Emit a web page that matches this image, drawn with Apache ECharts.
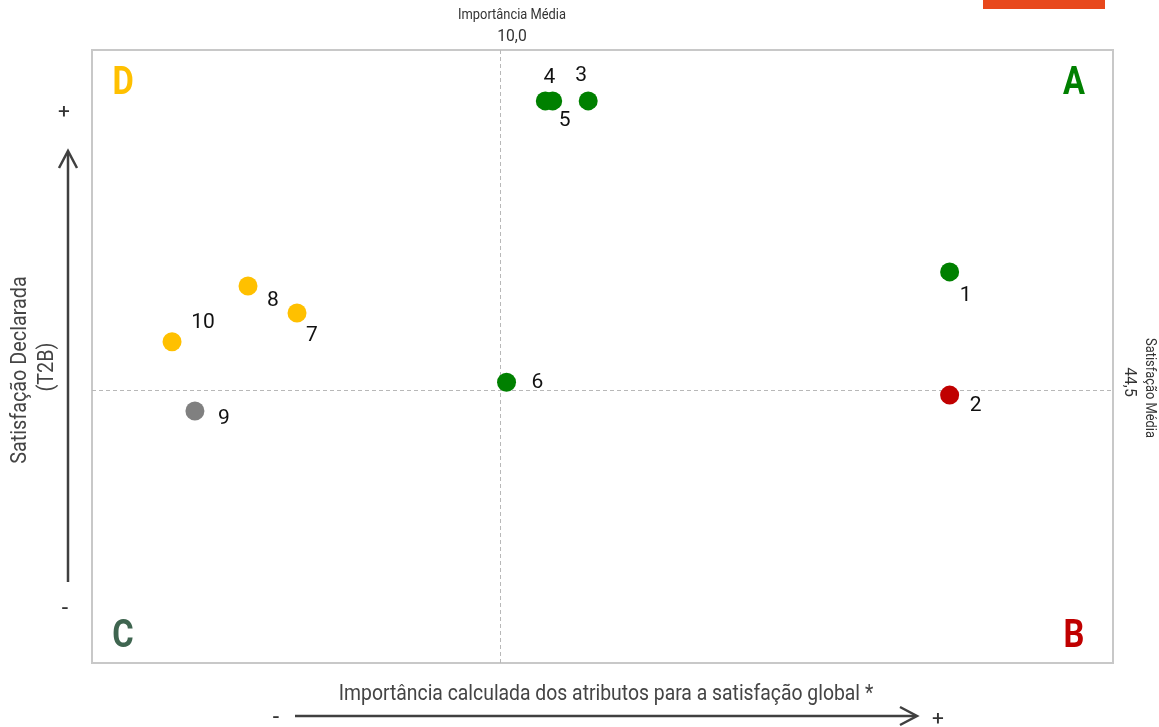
<!DOCTYPE html>
<html><head><meta charset="utf-8">
<script src="https://cdn.jsdelivr.net/npm/echarts@6/dist/echarts.min.js"></script>
<style>html,body{margin:0;padding:0;background:#fff}#c{width:1159px;height:727px}</style>
</head><body><div id="c"></div>
<script>
const labels = ['1','2','3','4','5','6','7','8','9','10'];
const importance = [21.0, 21.0, 12.15, 11.1, 11.28, 10.15, 5.02, 3.82, 2.52, 1.96];
const satisfaction = [63.8, 43.7, 91.7, 91.7, 91.7, 45.8, 57.1, 61.5, 41.1, 52.4];
const groups = ['A','B','A','A','A','A','D','D','C','D'];
const medianImportance = 10.0;
const medianSatisfaction = 44.5;
const quadrantLetters = ['A','B','C','D'];

const FONT = 'Roboto';
const groupColor = {A:'#008000', B:'#C00000', C:'#808080', D:'#FFC000'};
const letterColor = {A:'#008000', B:'#C00000', C:'#3F6550', D:'#FFC000'};
const labelOffset = [[16,24],[26,11],[-7,-25],[4,-23],[12,20],[31,1],[15,23],[25,15],[29,8],[31,-19]];

const X0=92, Y0=50, X1=1113, Y1=663;

const data = labels.map((l,i)=>({
  value:[importance[i], satisfaction[i]],
  name:l,
  itemStyle:{color: groupColor[groups[i]], opacity:1},
  label:{show:true, formatter:l, position:'inside', offset:labelOffset[i], color:'#111', fontSize:21, fontFamily:FONT}
}));

const chart = echarts.init(document.getElementById('c'), null, {renderer:'canvas'});
const fmt = v => v.toFixed(1).replace('.', ',');
const letterPos = {A:[1074,84], B:[1074,637], C:[123,637], D:[123,84]};
const letters = quadrantLetters.map(q=>({
  type:'text', x:letterPos[q][0], y:letterPos[q][1], scaleX:0.86,
  style:{text:q, fill:letterColor[q], fontFamily:FONT, fontWeight:'bold', fontSize:38, textAlign:'center', textVerticalAlign:'middle'}
}));
function txt(x,y,s,size,color,sx,rot){
  const o = {type:'text', x:x, y:y, scaleX:sx, style:{text:s, fill:color||'#333', fontFamily:FONT, fontSize:size, textAlign:'center', textVerticalAlign:'middle'}};
  if (rot){ o.rotation = rot; }
  return o;
}

chart.setOption({
  animation:false,
  grid:{left:X0, top:Y0, right:1159-X1, bottom:727-Y1, show:true, borderColor:'#c8c8c8', borderWidth:2, backgroundColor:'transparent'},
  xAxis:{type:'value', min:0, max:25, show:false, splitLine:{show:false}},
  yAxis:{type:'value', min:0, max:100, show:false, splitLine:{show:false}},
  series:[{
    type:'scatter', symbolSize:19, data:data, z:5,
    markLine:{silent:true, symbol:'none', label:{show:false},
      lineStyle:{type:[4,3], color:'#b8b8b8', width:1},
      data:[{xAxis:medianImportance},{yAxis:medianSatisfaction}]}
  }],
  graphic:[
    {type:'rect', shape:{x:983, y:0, width:122, height:9}, style:{fill:'#E8481C'}},
    txt(512,15,'Importância Média',14,'#333',0.92),
    txt(512,37,fmt(medianImportance),16,'#333',0.98),
    txt(1149,388,'Satisfação Média',14,'#333',0.92,-Math.PI/2),
    txt(1129,382,fmt(medianSatisfaction),16,'#333',0.98,-Math.PI/2),
    txt(20,370,'Satisfação Declarada',22,'#444',0.9,Math.PI/2),
    txt(47,367,'(T2B)',22,'#444',0.9,Math.PI/2),
    {type:'line', shape:{x1:68, y1:582, x2:68, y2:152}, style:{stroke:'#404040', lineWidth:2.5}},
    {type:'polyline', shape:{points:[[59,168],[68,151],[77,168]]}, style:{stroke:'#404040', lineWidth:2.5, fill:null}},
    txt(64,113,'+',21,'#333',1),
    txt(65,609,'-',23,'#333',1),
    txt(606,694,'Importância calculada dos atributos para a satisfação global *',22,'#444',0.88),
    {type:'line', shape:{x1:295, y1:716, x2:916, y2:716}, style:{stroke:'#404040', lineWidth:2.5}},
    {type:'polyline', shape:{points:[[900,707],[917,716],[900,725]]}, style:{stroke:'#404040', lineWidth:2.5, fill:null}},
    txt(276,718,'-',23,'#333',1),
    txt(938,720,'+',21,'#333',1)
  ].concat(letters)
});
</script></body></html>
